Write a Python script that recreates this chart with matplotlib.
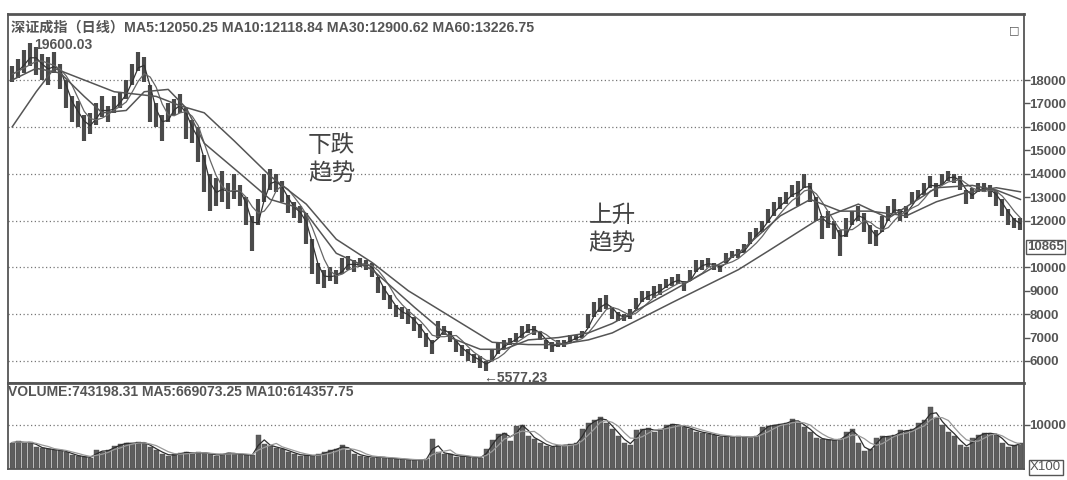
import matplotlib.pyplot as plt
import matplotlib.transforms as mtransforms
import pandas as pd

plt.rcParams['font.family'] = ['Liberation Sans', 'Noto Sans CJK SC', 'DejaVu Sans']

# 日线 K 线（每根约 6 像素），最低价 / 最高价
lows = [17900, 18100, 18300, 18600, 18200, 18000, 17800, 18300, 17600, 16800,
        16200, 16000, 15400, 15700, 16100, 16400, 16200, 16600, 16800, 17200,
        17800, 18400, 17900, 16200, 16000, 15400, 16200, 16500, 16600, 15500,
        15300, 14500, 13200, 12400, 12600, 12800, 12500, 12900, 12600, 11800,
        10700, 11800, 12800, 13300, 13200, 12800, 12300, 12100, 11900, 11000,
        9700, 9300, 9100, 9400, 9300, 9700, 9900, 9800, 10000, 9900,
        9600, 8900, 8600, 8200, 7900, 7800, 7600, 7300, 7000, 6600,
        6300, 7000, 7100, 6800, 6400, 6200, 6000, 5900, 5700, 5577,
        6000, 6300, 6500, 6700, 6800, 7000, 7200, 7100, 6900, 6500,
        6400, 6600, 6600, 6800, 6900, 7000, 7400, 7900, 8100, 8200,
        7800, 7700, 7700, 7800, 8200, 8500, 8600, 8700, 8800, 9100,
        9200, 9300, 9000, 9400, 9800, 9900, 10000, 9900, 9800, 10200,
        10400, 10400, 10600, 11000, 11300, 11500, 11900, 12200, 12500, 12700,
        13000, 12600, 13400, 12800, 12000, 11200, 11700, 11200, 10500, 11300,
        11800, 12000, 11500, 11000, 10900, 11500, 12000, 12300, 12000, 12100,
        12700, 12900, 13100, 13400, 13000, 13500, 13700, 13600, 13300, 12700,
        12900, 13200, 13200, 13000, 12600, 12200, 11800, 11700, 11600]
highs = [18600, 18900, 19300, 19600, 19400, 19100, 19000, 19200, 18700, 18000,
         17300, 17100, 16500, 16600, 17000, 17300, 16900, 17300, 17500, 18000,
         18700, 19200, 19000, 17800, 17000, 16500, 17000, 17200, 17400, 16800,
         16300, 16000, 14800, 14000, 13800, 14100, 13600, 14000, 13500, 13000,
         12200, 12900, 14000, 14200, 14000, 13700, 13100, 12800, 12600, 12300,
         11200, 10200, 9900, 10000, 9900, 10400, 10500, 10300, 10400, 10300,
         10200, 9600, 9200, 8800, 8400, 8300, 8200, 7900, 7600, 7200,
         6900, 7700, 7500, 7300, 6900, 6700, 6500, 6300, 6200, 6000,
         6500, 6800, 6900, 7000, 7200, 7500, 7600, 7500, 7300, 6900,
         6800, 6900, 6900, 7100, 7100, 7300, 8000, 8500, 8700, 8800,
         8300, 8100, 8000, 8200, 8700, 9000, 9000, 9200, 9300, 9500,
         9600, 9700, 9400, 9900, 10300, 10300, 10400, 10200, 10100, 10600,
         10700, 10800, 11000, 11500, 11700, 12000, 12500, 12800, 13000, 13200,
         13500, 13700, 14000, 13600, 13000, 12200, 12400, 12000, 11600, 12100,
         12400, 12600, 12300, 11800, 11600, 12200, 12600, 12900, 12500, 12600,
         13200, 13300, 13600, 13900, 13600, 14000, 14100, 14000, 13900, 13300,
         13400, 13600, 13600, 13500, 13300, 12900, 12500, 12100, 12100]

# MA30 / MA60（按 K 线序号读取）
ma30_idx = [0, 4, 8, 12, 15, 19, 22, 26, 29, 32, 38, 43, 47, 49, 54, 60, 67, 73,
            78, 82, 86, 91, 96, 100, 110, 121, 128, 133, 138, 141, 146, 154, 160,
            164, 168]
ma30_val = [18000, 18500, 18300, 17300, 16600, 16700, 17500, 17600, 16800, 15300,
            14000, 12900, 12600, 12300, 10600, 9900, 8300, 7000, 6500, 6500,
            6900, 7000, 7200, 7600, 9000, 10600, 12200, 12900, 12400, 12700,
            12100, 13400, 13500, 13300, 12900]
ma60_idx = [0, 4, 7, 12, 17, 24, 28, 32, 37, 43, 49, 54, 60, 66, 73, 80, 86, 91,
            96, 100, 110, 121, 126, 134, 138, 143, 149, 154, 159, 164, 168]
ma60_val = [16000, 17500, 18500, 18000, 17500, 17300, 16900, 16600, 15400, 13900,
            12700, 11200, 10200, 9000, 7900, 6800, 6700, 6700, 6900, 7200,
            8500, 9900, 10700, 12000, 12400, 12400, 12200, 12800, 13200, 13400,
            13226]

# 成交量（X100）
volume = [6000, 6300, 5800, 6200, 5000, 4700, 4500, 4300, 4200, 3800,
          3200, 2900, 2700, 2600, 4200, 3900, 4400, 5200, 5600, 6000,
          5700, 6200, 5800, 5000, 4200, 3500, 3000, 3300, 3600, 3900,
          3400, 3800, 3600, 3400, 3000, 3500, 3700, 3400, 3300, 3200,
          3100, 7600, 5600, 5200, 4800, 4500, 3900, 3500, 3000, 3200,
          2900, 3300, 3800, 4300, 4600, 5400, 4300, 3500, 3000, 2800,
          2600, 2800, 2500, 2400, 2300, 2200, 2100, 2000, 2100, 2200,
          6700, 3800, 3500, 3300, 2800, 3000, 2700, 2600, 2500, 4500,
          6500, 8000, 8200, 6400, 9800, 10000, 7500, 6800, 6000, 5200,
          5000, 5500, 5300, 5600, 5800, 9000, 10500, 11000, 11800, 10500,
          9000, 7500, 6000, 5500, 8800, 9000, 9200, 8500, 9000, 10000,
          10200, 9800, 9500, 9000, 8500, 8200, 8000, 7600, 7300, 7500,
          7200, 7400, 7300, 7100, 7500, 9500, 9800, 10000, 10200, 10500,
          11300, 10500, 9500, 8500, 7000, 6800, 6500, 6600, 6800, 8500,
          9000, 6000, 4000, 4500, 7000, 7500, 7300, 7800, 8800, 8600,
          9000, 10500, 11000, 14000, 11500, 10000, 8500, 7500, 5500, 5000,
          7000, 7800, 8200, 8000, 7800, 6000, 5000, 5500, 6000]

price_labels = [6000, 7000, 8000, 9000, 10000, 12000, 13000, 14000, 15000, 16000, 17000, 18000]
price_grid = [6000, 8000, 10000, 12000, 14000, 16000, 18000]

title_text = '深证成指（日线）MA5:12050.25 MA10:12118.84 MA30:12900.62 MA60:13226.75'
vol_text = 'VOLUME:743198.31 MA5:669073.25 MA10:614357.75'

GRAY = '#555555'

n = len(lows)
xs = list(range(n))
mid = pd.Series([(a + b) / 2 for a, b in zip(lows, highs)])
ma5 = mid.rolling(2, min_periods=1).mean()
ma10 = mid.rolling(4, min_periods=1).mean()
vol = pd.Series(volume)
vma5 = vol.rolling(2, min_periods=1).mean()
vma10 = vol.rolling(4, min_periods=1).mean()

fig = plt.figure(figsize=(10.67, 4.8), dpi=100)
W, H = 1067, 480
ax = fig.add_axes([8 / W, 1 - 383 / H, 1016 / W, 369 / H])
axv = fig.add_axes([8 / W, 1 - 469 / H, 1016 / W, 86 / H])

# 主图
ax.vlines(xs, lows, highs, color='#4a4a4a', linewidth=3.0)
ax.plot(xs, ma5, color='#333333', linewidth=0.9)
ax.plot(xs, ma10, color='#666666', linewidth=0.9)
ax.plot(ma30_idx, ma30_val, color='#555555', linewidth=1.1)
ax.plot(ma60_idx, ma60_val, color='#555555', linewidth=1.1)
for g in price_grid:
    ax.axhline(g, color='#777777', linewidth=0.9, linestyle=(0, (1, 2)), zorder=0)

ax.set_xlim(-0.7, 168.6)
ax.set_ylim(5060, 20820)
ax.set_xticks([])
ax.yaxis.tick_right()
ax.set_yticks(price_labels)
ax.set_yticklabels([str(v) for v in price_labels])
ax.tick_params(axis='y', length=4, width=1, color=GRAY, labelcolor=GRAY,
               labelsize=9.5, pad=0)
for lab in ax.get_yticklabels():
    lab.set_fontweight('bold')
for s in ax.spines.values():
    s.set_color(GRAY)
    s.set_linewidth(1.3)
ax.spines['top'].set_linewidth(2)

trans = mtransforms.blended_transform_factory(ax.transAxes, ax.transData)
ax.text(1.003, 10865, '10865', transform=trans, fontsize=9.5, fontweight='bold',
        color=GRAY, va='center', ha='left',
        bbox=dict(boxstyle='square,pad=0.1', fc='white', ec=GRAY, lw=1))
ax.text(0.996, 0.955, '□', transform=ax.transAxes, fontsize=8, color=GRAY,
        ha='right', va='center', family='DejaVu Sans')

ax.text(0.003, 0.963, title_text, transform=ax.transAxes, fontsize=10.2,
        fontweight='bold', color=GRAY, ha='left', va='center')
ax.text(3.6, 19500, '19600.03', fontsize=10, fontweight='bold', color=GRAY,
        ha='left', va='center')
ax.text(78.5, 5560, '←5577.23', fontsize=10, fontweight='bold', color=GRAY,
        ha='left', va='top', family=['Liberation Sans', 'DejaVu Sans'])

ax.text(53.2, 14600, '下跌\n趋势', fontsize=17, color='#444444', ha='center',
        va='center', linespacing=1.3, family=['Noto Sans CJK SC'])
ax.text(100, 11600, '上升\n趋势', fontsize=17, color='#444444', ha='center',
        va='center', linespacing=1.3, family=['Noto Sans CJK SC'])

# 成交量
axv.bar(xs, volume, width=0.8, color='#5e5e5e', edgecolor='#4a4a4a', linewidth=0.3)
axv.plot(xs, vma5, color='#2e2e2e', linewidth=0.9)
axv.plot(xs, vma10, color='#999999', linewidth=0.9)
axv.axhline(10000, color='#777777', linewidth=0.9, linestyle=(0, (1, 2)), zorder=0)
axv.set_xlim(-0.7, 168.6)
axv.set_ylim(0, 19500)
axv.set_xticks([])
axv.yaxis.tick_right()
axv.set_yticks([10000])
axv.set_yticklabels(['10000'])
axv.tick_params(axis='y', length=4, width=1, color=GRAY, labelcolor=GRAY,
                labelsize=9.5, pad=0)
for lab in axv.get_yticklabels():
    lab.set_fontweight('bold')
for s in axv.spines.values():
    s.set_color(GRAY)
    s.set_linewidth(1.3)
axv.spines['top'].set_linewidth(2)
axv.text(0.0, 0.9, vol_text, transform=axv.transAxes, fontsize=10,
         fontweight='bold', color=GRAY, ha='left', va='center')
axv.text(1.006, 0.02, 'X100', transform=axv.transAxes, fontsize=9.5,
         color=GRAY, ha='left', va='center',
         bbox=dict(boxstyle='square,pad=0.1', fc='white', ec=GRAY, lw=1))

fig.savefig('out.png', dpi=100)
